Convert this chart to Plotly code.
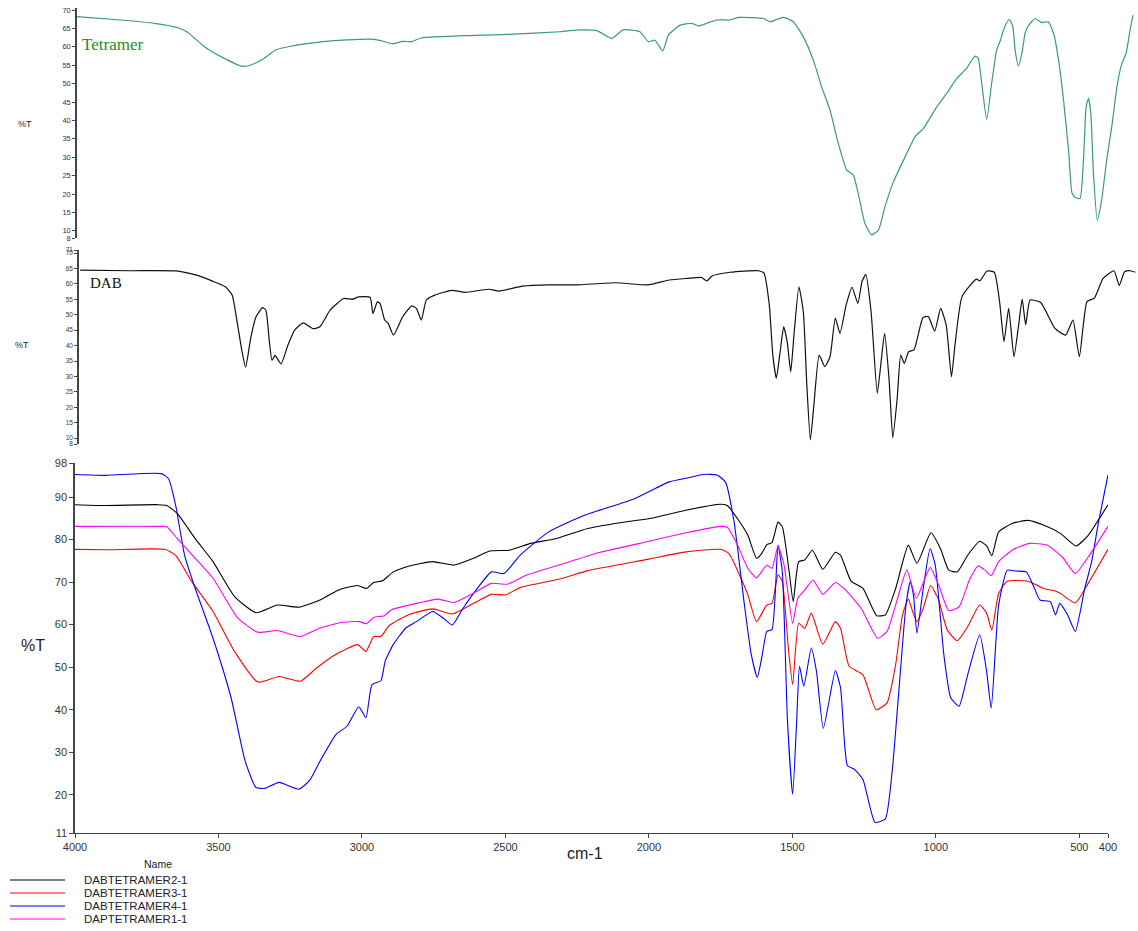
import plotly.graph_objects as go

# ---------------- data ----------------
tet_wn = [4000,3851,3736,3655,3626,3598,3563,3506,3436,3402,3362,3321,3275,3160,3080,2999,2964,2924,2890,2861,
          2826,2642,2527,2354,2285,2228,2177,2138,2081,2052,2030,2003,1984,1944,1905,1882,1853,1819,1774,1745,
          1660,1638,1592,1558,1524,1490,1462,1433,1405,1376,1354,1337,1314,1291,1268,1246,1217,1177,1143,1115,
          1069,1035,1001,967,939,928,916,899,882,865,854,837,822,810,802,791,779,768,757,734,
          711,689,671,654,637,620,608,598,581,569,560,552,544,535,522,507,490,471,455,438,424,410,400]
tet_t = [68.2,67.3,66.4,65.2,64.1,62.3,59.9,57.2,54.7,55.2,56.9,59.2,60.1,61.4,61.9,62.1,61.7,60.8,61.5,61.4,
         62.4,63.1,63.4,64.1,64.6,64.4,62.3,64.6,64.1,61.4,61.8,58.9,63.2,65.9,66.4,65.7,66.4,67.3,67.3,68.0,
         67.7,66.8,68.0,66.8,62.7,56.4,49.2,42.8,33.8,26.5,25.2,20.2,12.0,8.9,10.2,16.5,23.3,30.1,35.6,37.8,
         43.7,47.4,51.4,54.2,57.5,56.9,50.1,40.3,50.1,59.1,61.4,65.5,67.5,65.5,59.1,54.8,58.2,63.7,65.7,67.7,
         66.6,66.8,63.7,56.4,45.5,32.0,20.2,19.1,18.8,29.2,43.7,46.0,41.9,25.6,12.9,18.4,29.2,39.2,49.2,55.5,58.2,64.6,68.6]

dab_wn = [3989,3817,3656,3586,3540,3494,3471,3454,3439,3425,3408,3390,3367,3356,3344,3335,3325,3304,3281,3258,
          3229,3195,3172,3137,3091,3062,3039,3001,2991,2976,2967,2951,2939,2921,2890,2859,2843,2826,2809,2780,
          2722,2676,2596,2561,2481,2389,2296,
          2164,2054,1981,1920,1871,1853,1835,1774,1725,1676,1658,1640,1628,1616,1603,1591,1579,1567,1555,1539,
          1524,1512,1500,1488,1470,1451,1433,1415,1399,1378,1358,1338,1324,1311,1293,1272,1260,1247,1232,1219,
          1204,1192,1180,1165,1147,1116,1098,1076,1056,1037,1019,1007,983,934,922,898,873,855,840,824,
          806,790,778,766,751,715,666,630,605,583,557,532,502,465,447,429,410,392]
dab_t = [64.5,64.3,64.2,62.7,61.0,59.1,56.4,47.7,39.0,33.0,42.3,49.3,52.3,51.5,41.2,35.2,36.8,34.1,40.1,45.0,
         47.4,45.5,46.1,51.5,55.3,55.0,55.8,55.7,50.4,54.2,53.7,48.3,47.2,43.4,49.3,52.9,52.1,48.3,54.8,56.4,
         57.9,57.3,58.3,57.7,59.3,59.7,59.7,
         60.4,59.7,61.3,61.8,62.1,61.0,62.6,63.8,64.2,64.3,63.5,53.2,36.9,29.4,38.0,46.1,41.3,31.5,44.5,59.1,
         51.0,27.2,9.4,20.7,36.9,33.2,36.4,48.9,44.0,53.2,58.9,53.7,60.8,63.1,51.0,24.5,33.7,44.0,29.4,10.1,
         22.9,36.9,34.2,38.0,38.6,49.1,49.4,44.7,52.1,46.7,29.9,40.2,55.9,61.6,61.0,64.2,63.8,54.3,41.3,52.1,
         36.4,46.7,55.1,46.7,54.8,54.0,45.6,43.4,48.3,36.4,54.3,55.4,61.8,64.3,59.5,64.0,64.3,63.8]

s2_wn = [4000,3904,3711,3680,3643,3581,3519,3444,3369,3295,3220,3146,3083,3015,2984,2959,2928,2891,2835,2754,
         2679,2611,2555,2486,2412,2325,2213,2066,
         2000,1871,1751,1727,1691,1655,1625,1607,1589,1571,1550,1535,1511,1497,1478,1457,1430,1394,1350,1332,
         1296,1254,1206,1176,1140,1096,1066,1017,984,955,925,889,847,823,805,781,734,679,625,565,511,469,400]
s2_t = [88.2,88.0,88.2,88.0,86.1,80.2,74.8,66.6,62.8,64.6,64.1,65.8,68.1,69.2,68.5,69.9,70.3,72.4,73.8,74.8,
        74.0,75.6,77.3,77.5,79.1,80.2,82.6,84.3,
        84.9,86.9,88.3,88.0,84.9,81.0,75.6,76.7,78.8,79.3,84.1,83.0,72.4,65.4,74.8,75.2,77.5,73.0,77.0,76.3,
        70.3,68.5,62.1,62.3,68.5,78.7,74.4,81.6,77.9,72.8,72.4,76.3,79.6,78.5,76.2,81.8,83.8,84.5,83.4,81.4,78.5,81.0,88.2]

s3_wn = [4000,3892,3687,3649,3593,3519,3444,3363,3289,3214,3158,3096,3015,2986,2959,2934,2903,2835,2754,2685,
         2611,2549,2499,2449,2300,2213,
         2000,1871,1751,1721,1679,1655,1625,1589,1571,1550,1535,1514,1499,1478,1457,1434,1394,1350,1332,1302,
         1254,1208,1170,1140,1116,1096,1081,1066,1044,1018,990,960,925,889,847,823,805,781,751,679,
         625,589,565,514,469,400]
s3_t = [77.7,77.6,77.7,76.3,70.1,63.1,53.7,46.5,47.8,46.7,49.8,52.8,55.3,53.7,57.2,57.2,59.9,62.4,63.7,62.5,
        65.0,67.1,67.0,68.7,70.9,72.7,
        75.4,77.1,77.7,76.7,70.9,67.0,60.7,64.6,65.0,71.7,70.1,54.5,45.9,60.3,59.1,62.7,55.4,60.7,59.1,50.2,
        48.2,40.0,41.6,50.6,62.3,66.0,63.1,60.7,63.8,69.2,65.7,58.7,56.2,59.5,64.6,62.7,58.7,67.3,70.2,70.2,
        68.5,68.0,67.3,65.1,69.7,77.7]

s4_wn = [4000,3892,3699,3674,3649,3618,3581,3519,3456,3407,3369,3338,3289,3220,3183,3146,3090,3052,3011,2986,
         2965,2934,2919,2891,2847,2810,2754,2716,2685,2648,2598,2549,2505,2449,2349,2225,
         2050,1931,1871,1811,1763,1733,1703,1667,1643,1622,1605,1589,1571,1550,1535,1517,1499,1485,1475,1460,
         1434,1416,1392,1350,1332,1308,1284,1254,1212,1176,1152,1128,1104,1089,1078,1066,1044,1020,1002,972,
         948,919,889,847,823,807,781,751,721,685,661,637,601,583,568,541,514,481,457,433,400]
s4_t = [95.3,95.1,95.5,94.3,88.0,76.3,68.5,56.8,42.8,27.9,21.7,21.5,22.9,21.3,23.3,27.9,34.2,36.1,40.7,38.1,
        45.9,46.8,51.4,55.3,59.2,60.7,63.1,61.5,59.9,63.8,68.5,72.4,72.0,76.3,81.8,85.7,
        89.6,93.5,94.4,95.3,95.2,93.5,84.1,64.6,52.9,47.6,52.9,58.4,58.8,78.7,72.4,37.3,20.1,37.3,50.2,45.5,
        54.5,49.0,35.6,49.2,45.1,26.8,26.0,23.6,13.5,14.3,25.6,45.1,64.6,70.1,67.0,58.0,68.5,77.9,74.0,52.9,
        42.8,40.8,48.2,57.6,49.0,40.4,64.6,72.8,72.6,72.4,69.3,65.8,65.4,62.3,65.0,62.3,58.4,68.5,74.8,84.1,95.2]

s1_wn = [4000,3699,3680,3643,3581,3519,3432,3363,3295,3214,3146,3071,3009,2984,2959,2922,2897,2835,2735,2679,
         2611,2549,2493,2424,2275,
         2170,2000,1871,1751,1727,1691,1655,1625,1589,1571,1550,1529,1499,1481,1457,1428,1394,1350,1320,1260,
         1203,1170,1140,1101,1068,1020,990,955,919,883,853,829,807,781,734,673,613,559,514,469,400]
s1_t = [83.1,83.1,83.0,80.2,75.6,70.9,61.5,58.2,58.6,57.2,59.2,60.5,60.7,60.2,61.7,62.1,63.5,64.6,66.0,65.2,
        67.4,69.7,69.5,71.7,74.8,
        77.0,79.6,81.6,83.1,82.9,78.7,73.2,71.0,74.0,73.2,78.5,74.0,60.3,66.2,68.1,70.5,67.1,69.9,68.5,63.8,
        56.8,58.4,64.6,72.8,66.2,73.4,69.3,63.3,64.2,70.5,73.8,72.8,71.5,74.8,77.5,79.1,78.7,75.9,72.0,75.9,83.1]

series_names = ["DABTETRAMER2-1", "DABTETRAMER3-1", "DABTETRAMER4-1", "DAPTETRAMER1-1"]
series_colors = ["#000000", "#ff0000", "#0000ff", "#ff00ff"]
series_x = [s2_wn, s3_wn, s4_wn, s1_wn]
series_y = [s2_t, s3_t, s4_t, s1_t]

bottom_xticks = [4000, 3500, 3000, 2500, 2000, 1500, 1000, 500, 400]
bottom_yticks = [11, 20, 30, 40, 50, 60, 70, 80, 90, 98]
tet_yticks = [8, 10, 15, 20, 25, 30, 35, 40, 45, 50, 55, 60, 65, 70]
dab_yticks = [8, 10, 15, 20, 25, 30, 35, 40, 45, 50, 55, 60, 65, 70, 71]

# ---------------- figure ----------------
W, H = 1138, 931
def px(x):
    return x / W
def py(y):
    return 1 - y / H

fig = go.Figure()
line_shape = dict(shape="spline", smoothing=0.5)

fig.add_trace(go.Scatter(x=tet_wn, y=tet_t, mode="lines", xaxis="x2", yaxis="y2",
                         line=dict(color="#3a9e6a", width=1.2, **line_shape), showlegend=False,
                         hoverinfo="skip"))
fig.add_trace(go.Scatter(x=dab_wn, y=dab_t, mode="lines", xaxis="x3", yaxis="y3",
                         line=dict(color="#111111", width=1.2, **line_shape), showlegend=False,
                         hoverinfo="skip"))
for name, col, xs, ys in zip(series_names, series_colors, series_x, series_y):
    fig.add_trace(go.Scatter(x=xs, y=ys, mode="lines", name=name, xaxis="x", yaxis="y",
                             line=dict(color=col, width=1.1, **line_shape), showlegend=False,
                             hoverinfo="skip"))

axis_col = "#444444"
tick_font_top = dict(family="Liberation Sans, Arial", size=7.5, color="#333333")
tick_font_dab = dict(family="Liberation Sans, Arial", size=6.5, color="#333333")
tick_font_big = dict(family="Liberation Sans, Arial", size=11, color="#333333")

fig.update_layout(
    template="none",
    width=W, height=H, margin=dict(l=0, r=0, t=0, b=0, pad=0, autoexpand=False),
    paper_bgcolor="white", plot_bgcolor="white", showlegend=False,
    # bottom panel
    xaxis=dict(domain=[px(75), px(1108)], range=[4000, 400], anchor="y", automargin=False,
               tickmode="array", tickvals=bottom_xticks, ticktext=[str(v) for v in bottom_xticks],
               ticks="outside", ticklen=4, tickcolor=axis_col, showline=True, linecolor=axis_col,
               linewidth=1, showgrid=False, zeroline=False, tickfont=tick_font_big),
    yaxis=dict(domain=[py(833), py(463)], range=[11, 98], anchor="x", automargin=False,
               tickmode="array", tickvals=bottom_yticks, ticks="outside", ticklen=4,
               tickcolor=axis_col, showline=True, linecolor=axis_col, linewidth=1.5,
               showgrid=False, zeroline=False, tickfont=tick_font_big),
    # tetramer panel
    xaxis2=dict(domain=[px(77), px(1136)], range=[4000, 390], anchor="y2", visible=False,
                automargin=False),
    yaxis2=dict(domain=[py(238.2), py(8.2)], range=[8, 70.5], anchor="x2", automargin=False,
                tickmode="array", tickvals=tet_yticks, ticks="outside", ticklen=3,
                tickcolor=axis_col, showline=True, linecolor=axis_col, linewidth=1.5,
                showgrid=False, zeroline=False, tickfont=tick_font_top),
    # DAB panel
    xaxis3=dict(domain=[px(79), px(1136)], range=[3993, 390], anchor="y3", visible=False,
                automargin=False),
    yaxis3=dict(domain=[py(444.2), py(250.1)], range=[8, 71], anchor="x3", automargin=False,
                tickmode="array", tickvals=dab_yticks, ticks="outside", ticklen=3,
                tickcolor=axis_col, showline=True, linecolor=axis_col, linewidth=1.5,
                showgrid=False, zeroline=False, tickfont=tick_font_dab),
)

ann = []
def text(x, y, s, size, color="#222222", family="Liberation Sans, Arial", xanchor="center"):
    ann.append(dict(x=px(x), y=py(y), xref="paper", yref="paper", text=s, showarrow=False,
                    xanchor=xanchor, yanchor="middle",
                    font=dict(size=size, color=color, family=family)))

text(25, 124, "%T", 9)
text(22, 345, "%T", 9)
text(33, 645, "%T", 16)
text(585, 853, "cm-1", 16)
text(80, 45, "Tetramer", 17, color="#1e8c1e", family="Liberation Serif, Times New Roman", xanchor="left")
text(88, 283, "DAB", 15, color="#111111", family="Liberation Serif, Times New Roman", xanchor="left")
text(158, 864, "Name", 10.5)

legend_rows = [880, 893, 906, 919]
shapes = []
for name, col, yrow in zip(series_names, series_colors, legend_rows):
    shapes.append(dict(type="line", xref="paper", yref="paper", x0=px(10), x1=px(65),
                       y0=py(yrow), y1=py(yrow), line=dict(color=col, width=1.2)))
    text(82, yrow, name, 11.5, xanchor="left")

fig.update_layout(annotations=ann, shapes=shapes)

fig.write_html("out.html", config={"displayModeBar": False},
               post_script="document.body.style.margin='0';")
